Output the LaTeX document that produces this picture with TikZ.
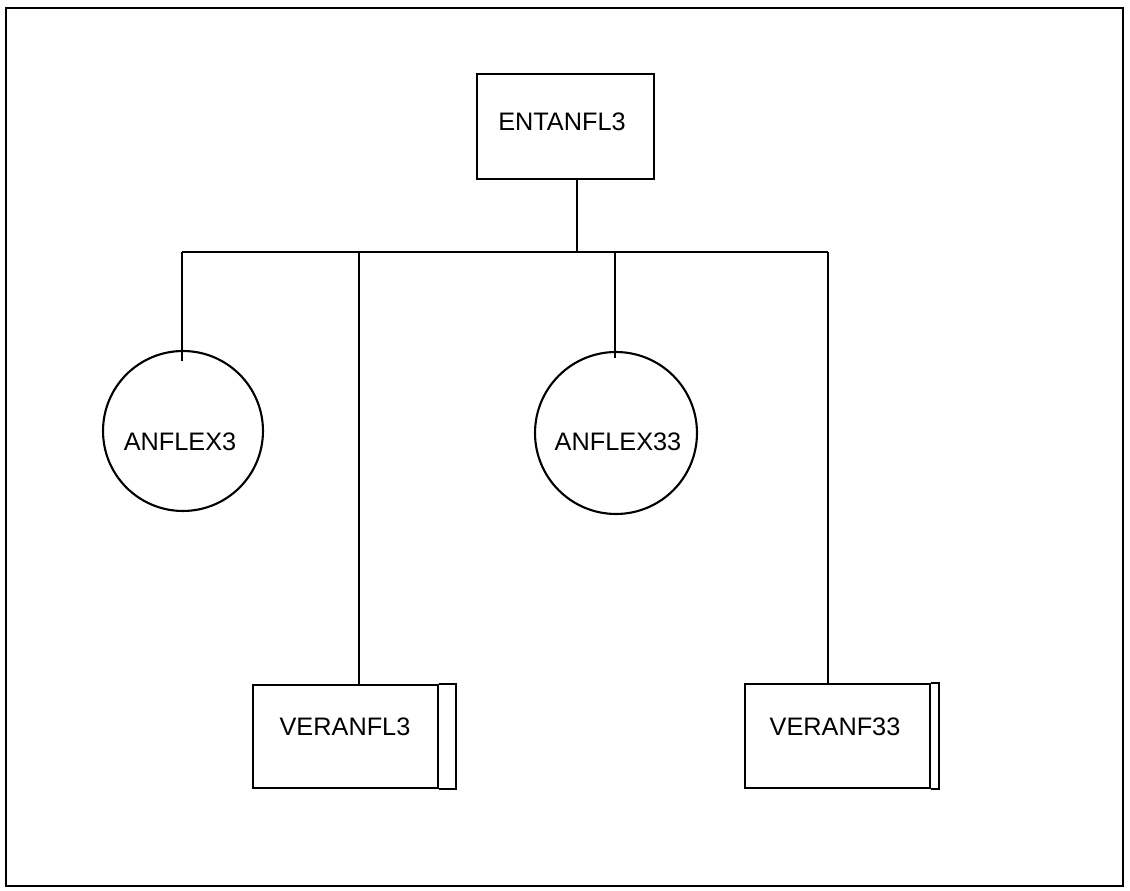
\documentclass[tikz,border=0pt]{standalone}
\usepackage{fontspec}
\setmainfont{Liberation Sans}
\usepackage{tikz}
\usetikzlibrary{positioning,calc}
\tikzset{
  rahmen/.style={draw=black,line width=1.3pt},
  prog/.style={draw=black,line width=1.2pt,rectangle,inner sep=0pt},
  kreis/.style={draw=black,line width=1.2pt,circle,inner sep=0pt},
  beschr/.style={font=\fontsize{14.4}{17}\selectfont,inner sep=0pt},
  verb/.style={draw=black,line width=1.2pt},
}
\begin{document}
\begin{tikzpicture}[x=0.02cm,y=-0.02cm]
  \useasboundingbox (0,0) rectangle (1130,891);
  \draw[rahmen] (6,8) rectangle (1123,886);

  % ---------------- Hauptprogramm ----------------
  \node[prog,minimum width=3.54cm,minimum height=2.1cm] (ent) at (565.5,126.5) {};
  \node[beschr] (entt) at (562,122) {ENTANFL3};

  % ---------------- Unterprogramme ----------------
  \node[kreis,minimum size=3.2cm] (anf3) at (183,431) {};
  \node[beschr] (anf3t) at (180,442) {ANFLEX3};
  \node[kreis,minimum size=3.24cm] (anf33) at (616,433) {};
  \node[beschr] (anf33t) at (618,442) {ANFLEX33};

  \node[prog,minimum width=3.7cm,minimum height=2.06cm] (ver3) at (345.5,736.5) {};
  \node[beschr] (ver3t) at (345,727) {VERANFL3};
  \draw[verb] (ver3.north east) -- ++(17,0) |- (ver3.south east);
  \node[prog,minimum width=3.7cm,minimum height=2.08cm] (ver33) at (837.5,736) {};
  \node[beschr] (ver33t) at (835,727) {VERANF33};
  \draw[verb] (ver33.north east) -- ++(8,0) |- (ver33.south east);

  % ---------------- Aufrufe ----------------
  \coordinate (jt) at (577,252);
  \coordinate (busl) at (182,252);
  \coordinate (busr) at (828,252);
  \coordinate (d3) at (359,252);
  \coordinate (d33) at (615,252);
  \draw[verb] (ent.south -| jt) -- (jt);
  \draw[verb] (busl) -- (busr);
  \draw[verb] (busl) -- ($(anf3.north -| busl)+(0,11)$);
  \draw[verb] (d33) -- ($(anf33.north -| d33)+(0,7)$);
  \draw[verb] (d3) -- (d3 |- ver3.north);
  \draw[verb] (busr) -- (busr |- ver33.north);
\end{tikzpicture}
\end{document}
